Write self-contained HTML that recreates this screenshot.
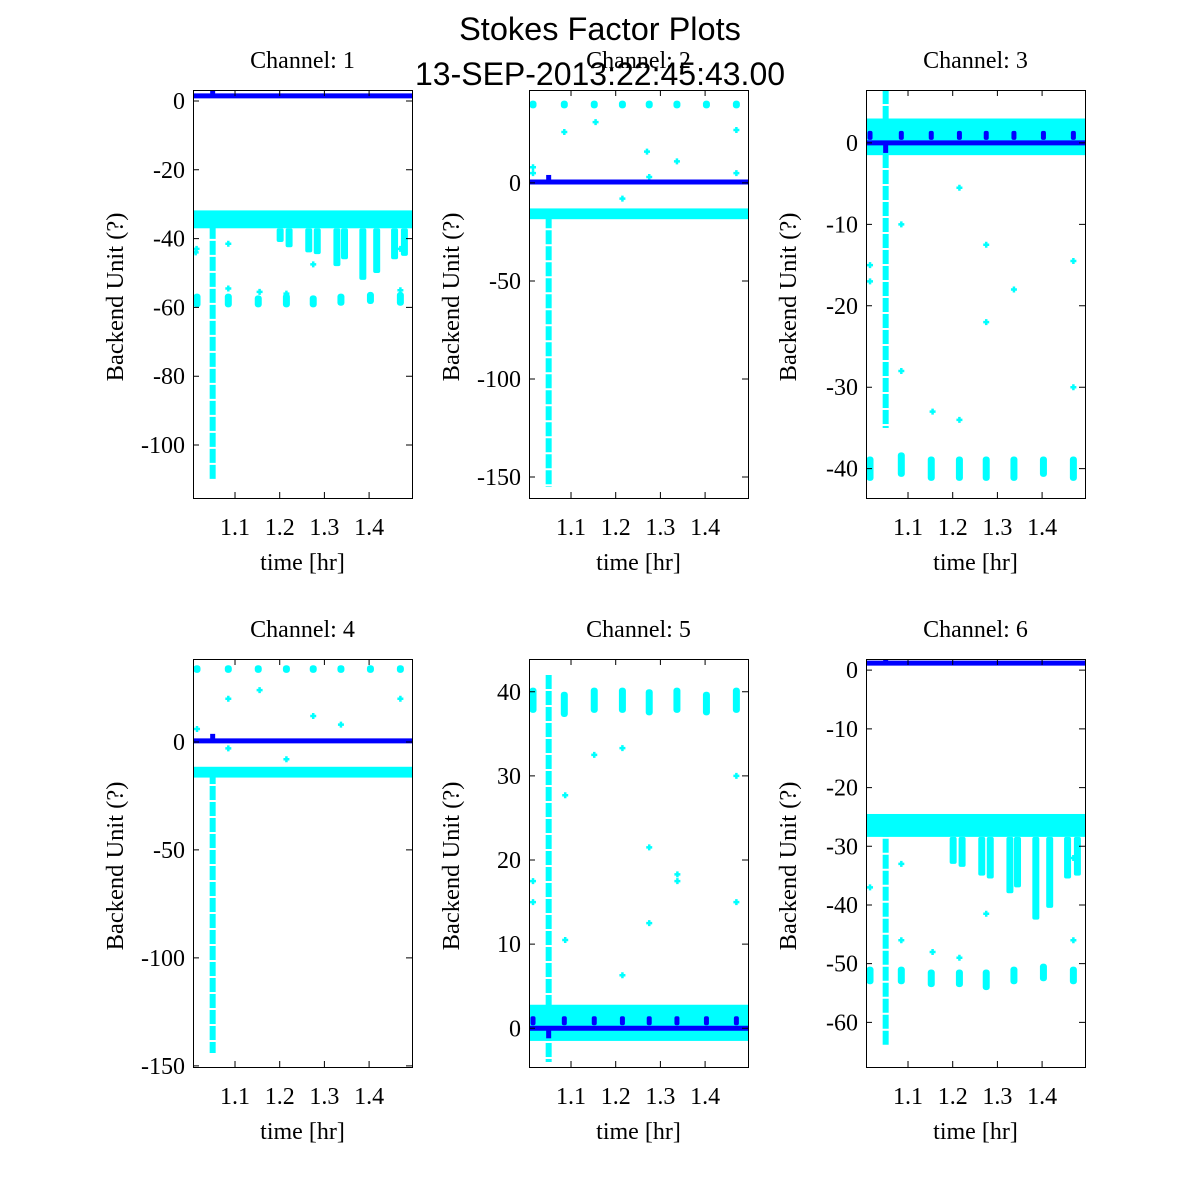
<!DOCTYPE html>
<html><head><meta charset="utf-8"><style>
html,body{margin:0;padding:0;background:#fff;}
svg{display:block;}
</style></head><body>
<svg id="chart" width="1200" height="1200" xmlns="http://www.w3.org/2000/svg">
<text x="600" y="40" text-anchor="middle" font-family="Liberation Sans, sans-serif" font-size="32.5">Stokes Factor Plots</text>
<g id="panels"></g>
<text x="600" y="85" text-anchor="middle" font-family="Liberation Sans, sans-serif" font-size="32">13-SEP-2013:22:45:43.00</text>
</svg>
<script>
// shared data
const xTicks = [1.1, 1.2, 1.3, 1.4];
const clusterTimes = [1.015, 1.085, 1.152, 1.215, 1.275, 1.337, 1.403, 1.470];
const spikeTime = 1.05;
const dipTimes = [1.201, 1.221, 1.265, 1.284, 1.328, 1.345, 1.386, 1.417, 1.457, 1.479];

// channel 1
const ch1YTicks = [0, -20, -40, -60, -80, -100];
const ch1Band = [-37, -31.8];
const ch1Dips = [-41, -42.5, -44, -44.5, -48, -46, -52, -50, -46, -45];
const ch1Clusters = [[-60, -56], [-60, -56], [-60, -56.5], [-60, -56], [-60, -56.5], [-59.5, -56], [-59, -55.5], [-59.5, -55.5]];
const ch1Spike = [-36, -110];
const ch1Outliers = [[1.012, -44], [1.014, -43], [1.085, -41.5], [1.085, -54.5], [1.155, -55.5], [1.215, -56], [1.275, -47.5], [1.47, -55], [1.47, -43]];

// channel 2
const ch2YTicks = [0, -50, -100, -150];
const ch2Band = [-18.5, -13];
const ch2Dips = [];
const ch2Clusters = [[38, 42], [38, 42], [38, 42], [38, 42], [38, 42], [38, 42], [38, 42], [38, 42]];
const ch2Spike = [-16, -155];
const ch2Outliers = [[1.015, 8], [1.015, 5], [1.085, 26], [1.155, 31], [1.215, -8], [1.27, 16], [1.275, 3], [1.337, 11], [1.47, 27], [1.47, 5]];

// channel 3
const ch3YTicks = [0, -10, -20, -30, -40];
const ch3Band = [-1.5, 3];
const ch3Dips = [];
const ch3Clusters = [[-41.5, -38.5], [-41, -38], [-41.5, -38.5], [-41.5, -38.5], [-41.5, -38.5], [-41.5, -38.5], [-41, -38.5], [-41.5, -38.5]];
const ch3Spike = [6.5, -35];
const ch3Outliers = [[1.015, -15], [1.015, -17], [1.085, -10], [1.085, -28], [1.155, -33], [1.215, -5.5], [1.215, -34], [1.275, -12.5], [1.275, -22], [1.337, -18], [1.47, -14.5], [1.47, -30]];

// channel 4
const ch4YTicks = [0, -50, -100, -150];
const ch4Band = [-16.5, -11.5];
const ch4Dips = [];
const ch4Clusters = [[32, 35.5], [32, 35.5], [32, 35.5], [32, 35.5], [32, 35.5], [32, 35.5], [32, 35.5], [32, 35.5]];
const ch4Spike = [-13, -144];
const ch4Outliers = [[1.015, 6], [1.085, 20], [1.085, -3], [1.155, 24], [1.215, -8], [1.275, 12], [1.337, 8], [1.47, 20]];

// channel 5
const ch5YTicks = [0, 10, 20, 30, 40];
const ch5Band = [-1.5, 2.8];
const ch5Dips = [];
const ch5Clusters = [[37.5, 40.5], [37, 40], [37.5, 40.5], [37.5, 40.5], [37.2, 40.3], [37.5, 40.5], [37.2, 40], [37.5, 40.5]];
const ch5Spike = [42, -4];
const ch5Outliers = [[1.015, 17.5], [1.015, 15], [1.087, 27.7], [1.087, 10.5], [1.152, 32.5], [1.215, 33.3], [1.215, 6.3], [1.275, 21.5], [1.275, 12.5], [1.338, 18.3], [1.338, 17.5], [1.47, 30], [1.47, 15]];

// channel 6
const ch6YTicks = [0, -10, -20, -30, -40, -50, -60];
const ch6Band = [-28.4, -24.5];
const ch6Dips = [-33, -33.5, -35, -35.5, -38, -37, -42.5, -40.5, -35.5, -35];
const ch6Clusters = [[-53.5, -50.5], [-53.5, -50.5], [-54, -51], [-54, -51], [-54.5, -51], [-53.5, -50.5], [-53, -50], [-53.5, -50.5]];
const ch6Spike = [-26, -64];
const ch6Outliers = [[1.015, -37], [1.085, -33], [1.085, -46], [1.155, -48], [1.215, -49], [1.275, -41.5], [1.47, -46], [1.47, -32]];

const lineValues = [1.5, 0.5, 0, 0.5, 0, 1.2];

const panels = [
  {name:'1', x0:193, y0:90, yMin:-115.4, yMax:3.2, ticks:ch1YTicks, band:ch1Band, dips:ch1Dips, clusters:ch1Clusters, spike:ch1Spike, out:ch1Outliers, line:lineValues[0], spikeUp:1},
  {name:'2', x0:529, y0:90, yMin:-160.7, yMax:47.4, ticks:ch2YTicks, band:ch2Band, dips:ch2Dips, clusters:ch2Clusters, spike:ch2Spike, out:ch2Outliers, line:lineValues[1], spikeUp:1},
  {name:'3', x0:866, y0:90, yMin:-43.6, yMax:6.5, ticks:ch3YTicks, band:ch3Band, dips:ch3Dips, clusters:ch3Clusters, spike:ch3Spike, out:ch3Outliers, line:lineValues[2], blueMarks:1},
  {name:'4', x0:193, y0:659, yMin:-150.5, yMax:38.4, ticks:ch4YTicks, band:ch4Band, dips:ch4Dips, clusters:ch4Clusters, spike:ch4Spike, out:ch4Outliers, line:lineValues[3], spikeUp:1},
  {name:'5', x0:529, y0:659, yMin:-4.6, yMax:43.9, ticks:ch5YTicks, band:ch5Band, dips:ch5Dips, clusters:ch5Clusters, spike:ch5Spike, out:ch5Outliers, line:lineValues[4], blueMarks:1},
  {name:'6', x0:866, y0:659, yMin:-67.6, yMax:1.9, ticks:ch6YTicks, band:ch6Band, dips:ch6Dips, clusters:ch6Clusters, spike:ch6Spike, out:ch6Outliers, line:lineValues[5], spikeUp:1}
];
const W = 219, H = 408, tMin = 1.006, tMax = 1.496;
const NS = 'http://www.w3.org/2000/svg';
const root = document.getElementById('panels');
const CY = '#00ffff', BL = '#0000ff';
function mk(tag, attrs, parent){const e=document.createElementNS(NS,tag);for(const k in attrs)e.setAttribute(k,attrs[k]);parent.appendChild(e);return e;}

panels.forEach(p => {
  const g = mk('g', {}, root);
  
  
  const xs = t => p.x0 + (t - tMin) / (tMax - tMin) * W;
  const ys = v => p.y0 + (p.yMax - v) / (p.yMax - p.yMin) * H;
  const clip = 'clip' + p.name;
  const cp = mk('clipPath', {id: clip}, g);
  mk('rect', {x:p.x0, y:p.y0, width:W, height:H}, cp);
  const plot = mk('g', {'clip-path':'url(#' + clip + ')'}, g);
  
  
  const band = mk('rect', {x:p.x0, y:ys(p.band[1]), width:W, height:ys(p.band[0]) - ys(p.band[1]), fill:CY}, plot);
  
  
  p.dips.forEach((d, i) => {
    const r = mk('rect', {x:xs(dipTimes[i]) - 3.5, y:ys(p.band[0]), width:7, height:ys(d) - ys(p.band[0]), rx:2, fill:CY}, plot);
    
    
  });
  p.clusters.forEach((c, i) => {
    const r = mk('rect', {x:xs(clusterTimes[i]) - 3.5, y:ys(c[1]), width:7, height:ys(c[0]) - ys(c[1]), rx:3, fill:CY}, plot);
    
    
  });
  const sp = mk('line', {x1:xs(spikeTime), x2:xs(spikeTime), y1:ys(p.spike[0]), y2:ys(p.spike[1]), stroke:CY, 'stroke-width':6, 'stroke-dasharray':'14 2'}, plot);
  
  
  p.out.forEach((o, i) => {
    const c = mk('path', {d:`M${xs(o[0])-3},${ys(o[1])}h6M${xs(o[0])},${ys(o[1])-3}v6`, stroke:CY, 'stroke-width':2.5}, plot);
    
    
  });
  const bl = mk('line', {x1:p.x0, x2:p.x0 + W, y1:ys(p.line), y2:ys(p.line), stroke:BL, 'stroke-width':5}, plot);
  
  
  if (p.blueMarks) {
    clusterTimes.forEach(t => {
      const m = mk('rect', {x:xs(t) - 2.5, y:ys(p.line) - 12, width:5, height:9, rx:2, fill:BL}, plot);
      
      
    });
  }
  const bs = mk('rect', {x:xs(spikeTime) - 2.5, y:p.spikeUp ? ys(p.line) - 7 : ys(p.line), width:5, height:p.spikeUp ? 5 : 10, fill:BL}, plot);
  
  
  const fr = mk('rect', {x:p.x0 + 0.5, y:p.y0 + 0.5, width:W, height:H, fill:'none', stroke:'#000', 'stroke-width':1}, g);
  
  
  xTicks.forEach(t => {
    const x = xs(t);
    mk('path', {d:`M${x},${p.y0 + H}v-6M${x},${p.y0}v6`, stroke:'#000', 'stroke-width':1}, g);
    const tl = mk('text', {x:x, y:p.y0 + H + 37, 'text-anchor':'middle', 'font-family':'Liberation Serif, serif', 'font-size':24}, g);
    tl.textContent = t.toFixed(1);
    
    
  });
  p.ticks.forEach(v => {
    const y = ys(v);
    mk('path', {d:`M${p.x0},${y}h6M${p.x0 + W},${y}h-6`, stroke:'#000', 'stroke-width':1}, g);
    const tl = mk('text', {x:p.x0 - 8, y:y + 8, 'text-anchor':'end', 'font-family':'Liberation Serif, serif', 'font-size':24}, g);
    tl.textContent = String(v);
    
    
  });
  const title = mk('text', {x:p.x0 + W / 2, y:p.y0 - 22, 'text-anchor':'middle', 'font-family':'Liberation Serif, serif', 'font-size':24}, g);
  title.textContent = 'Channel: ' + p.name;
  
  
  const xl = mk('text', {x:p.x0 + W / 2, y:p.y0 + H + 72, 'text-anchor':'middle', 'font-family':'Liberation Serif, serif', 'font-size':24}, g);
  xl.textContent = 'time [hr]';
  
  
  const yx = p.x0 - 70, yy = p.y0 + H / 2 + 3;
  const yl = mk('text', {x:yx, y:yy, 'text-anchor':'middle', 'font-family':'Liberation Serif, serif', 'font-size':24.5, transform:`rotate(-90 ${yx} ${yy})`}, g);
  yl.textContent = 'Backend Unit (?)';
  
  
});
</script>
</body></html>
